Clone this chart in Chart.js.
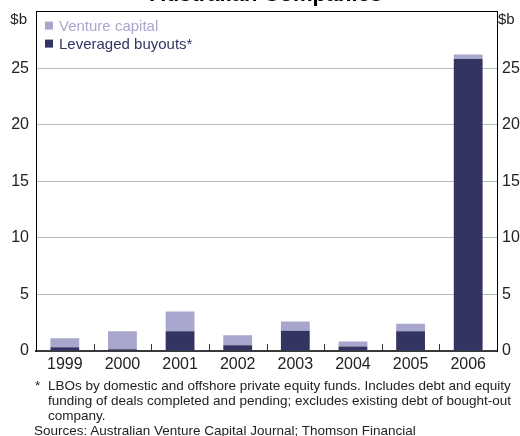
<!DOCTYPE html>
<html>
<head>
<meta charset="utf-8">
<script src="https://cdn.jsdelivr.net/npm/chart.js@4/dist/chart.umd.min.js"></script>
<style>
  body { margin: 0; background: #fff; }
  #wrap { position: relative; width: 520px; height: 436px; overflow: hidden; font-family: Arial, "Liberation Sans", sans-serif; }
  #chart { position: absolute; left: 0; top: -5px; }
  .title { position: absolute; left: 0; width: 532px; top: -18px; line-height: 24px; text-align: center; font-weight: bold; font-size: 22px; color: #000; }
  .note { position: absolute; font-size: 13.5px; line-height: 15px; color: #222; white-space: nowrap; }
</style>
</head>
<body>
<div id="wrap">
  <canvas id="chart" width="520" height="441"></canvas>
  <div class="title">Australian Companies</div>
  <div class="note" style="left:35px; top:378px;">*</div>
  <div class="note" style="left:48px; top:378px;">LBOs by domestic and offshore private equity funds. Includes debt and equity<br>funding of deals completed and pending; excludes existing debt of bought-out<br>company.</div>
  <div class="note" style="left:34px; top:423px;">Sources: Australian Venture Capital Journal; Thomson Financial</div>
</div>
<script>
const years = ['1999', '2000', '2001', '2002', '2003', '2004', '2005', '2006'];
const leveragedBuyouts = [0.33, 0.15, 1.75, 0.5, 1.8, 0.4, 1.75, 25.8];
const ventureCapital = [0.8, 1.6, 1.75, 0.9, 0.8, 0.45, 0.65, 0.4];
const yTicks = [0, 5, 10, 15, 20, 25, 30];

const LIGHT = '#a9a6cd';
const DARK = '#333462';

Chart.defaults.font.family = 'Arial, "Liberation Sans", sans-serif';
Chart.defaults.color = '#222';

// legend, $b units and the small category ticks on the x axis
const extras = {
  id: 'extras',
  afterDatasetsDraw(chart) {
    const { ctx, chartArea: a, scales: { x } } = chart;
    ctx.save();
    ctx.strokeStyle = '#333';
    ctx.lineWidth = 1;
    for (let i = 1; i < years.length; i++) {
      const px = Math.round(x.getPixelForValue(i - 0.5)) + 0.5;
      ctx.beginPath();
      ctx.moveTo(px, a.bottom - 7);
      ctx.lineTo(px, a.bottom);
      ctx.stroke();
    }
    ctx.restore();
  },
  afterDraw(chart) {
    const { ctx, chartArea: a } = chart;
    ctx.save();
    ctx.font = '15px Arial, "Liberation Sans", sans-serif';
    ctx.textBaseline = 'middle';
    const items = [
      [chart.data.datasets[1].label, LIGHT],
      [chart.data.datasets[0].label, DARK],
    ];
    items.forEach(([label, col], i) => {
      const cy = a.top + 14 + i * 18;
      ctx.fillStyle = col;
      ctx.fillRect(a.left + 9, cy - 4, 8, 8);
      ctx.fillText(label, a.left + 23, cy + 1);
    });
    ctx.fillStyle = '#222';
    ctx.textAlign = 'right';
    ctx.fillText('$b', a.left - 9, a.top + 8);
    ctx.textAlign = 'left';
    ctx.fillText('$b', a.right + 1, a.top + 8);
    ctx.restore();
  }
};

new Chart(document.getElementById('chart'), {
  type: 'bar',
  data: {
    labels: years,
    datasets: [
      { label: 'Leveraged buyouts*', data: leveragedBuyouts, backgroundColor: DARK, stack: 's', barPercentage: 0.5, categoryPercentage: 1 },
      { label: 'Venture capital', data: ventureCapital, backgroundColor: LIGHT, stack: 's', barPercentage: 0.5, categoryPercentage: 1 },
    ]
  },
  options: {
    responsive: false,
    animation: false,
    devicePixelRatio: 1,
    layout: { padding: { top: 7, left: 0, right: 0, bottom: 0 } },
    plugins: { legend: { display: false }, tooltip: { enabled: false }, title: { display: false } },
    scales: {
      x: {
        stacked: true,
        grid: { display: false, drawTicks: false },
        border: { display: true, color: '#3a3a3a', width: 2 },
        ticks: { padding: 4, font: { size: 16 }, color: '#222', maxRotation: 0 },
        afterFit: (s) => { s.height = 85; }
      },
      y: {
        position: 'left',
        stacked: true,
        min: 0,
        max: 30,
        afterBuildTicks: (s) => { s.ticks = yTicks.map(v => ({ value: v })); },
        grid: {
          drawTicks: false,
          color: (c) => c.tick && c.tick.value === 30 ? '#000' : '#b4bcc4',
          lineWidth: 1
        },
        border: { display: true, color: '#000', width: 1 },
        ticks: { padding: 7, font: { size: 16 }, color: '#222', callback: (v) => v === 30 ? '' : v },
        afterFit: (s) => { s.width = 36; }
      },
      y2: {
        position: 'right',
        min: 0,
        max: 30,
        afterBuildTicks: (s) => { s.ticks = yTicks.map(v => ({ value: v })); },
        grid: { display: false, drawTicks: false },
        border: { display: true, color: '#000', width: 1 },
        ticks: { padding: 5, font: { size: 16 }, color: '#222', callback: (v) => v === 30 ? '' : v },
        afterFit: (s) => { s.width = 23; }
      }
    }
  },
  plugins: [extras]
});
</script>
</body>
</html>
